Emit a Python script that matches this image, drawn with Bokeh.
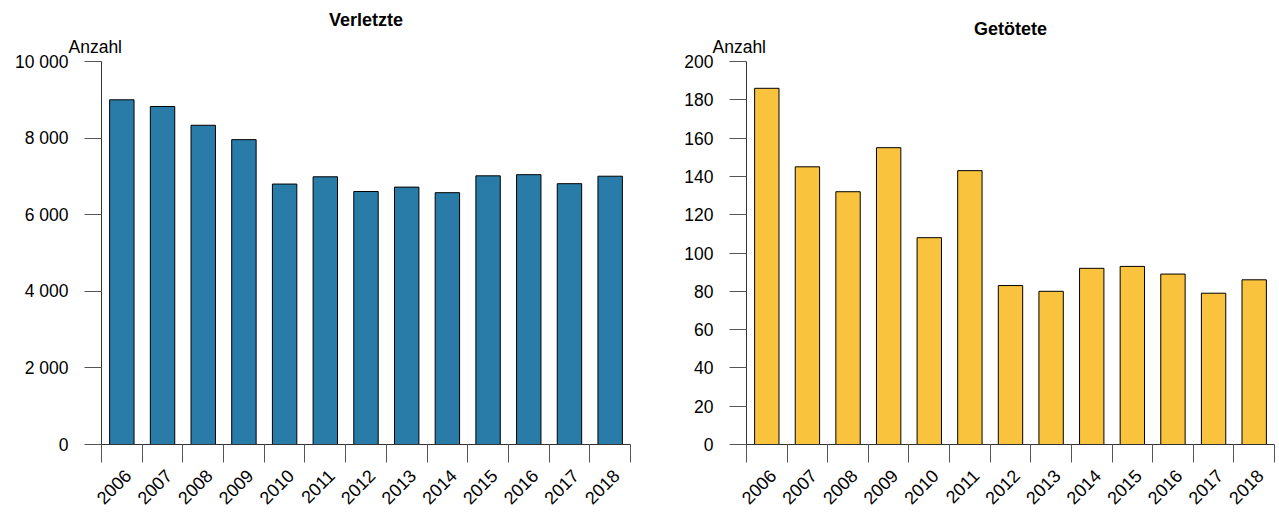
import math
from bokeh.plotting import figure
from bokeh.layouts import row
from bokeh.models import Range1d, FixedTicker, Title
from bokeh.embed import file_html
from bokeh.resources import INLINE

# ---- data ----
years = ["2006", "2007", "2008", "2009", "2010", "2011", "2012",
         "2013", "2014", "2015", "2016", "2017", "2018"]
verletzte = [9000, 8825, 8335, 7960, 6800, 6990, 6605, 6720, 6575, 7015, 7045, 6810, 7005]
getoetete = [186, 145, 132, 155, 108, 143, 83, 80, 92, 93, 89, 79, 86]

left_ticks = [0, 2000, 4000, 6000, 8000, 10000]
left_tick_labels = ["0", "2 000", "4 000", "6 000", "8 000", "10 000"]
right_ticks = [0, 20, 40, 60, 80, 100, 120, 140, 160, 180, 200]
right_tick_labels = ["0", "20", "40", "60", "80", "100", "120", "140", "160", "180", "200"]

titles = ["Verletzte", "Getötete"]
y_label = "Anzahl"
colors = ["#2A7CA8", "#FAC33D"]

FONT = "Liberation Sans"
LABEL_SHIFT = 0.15   # rotated year labels sit slightly right of the bar centre


def panel(values, color, ticks, tick_labels, title, width, b_left, b_right,
          title_dx, title_standoff, lab_dx):
    n = len(years)
    xs = list(range(1, n + 1))
    ymax = ticks[-1]
    p = figure(width=width, height=519, title=None,
               x_range=Range1d(0.5, n + 0.5),
               y_range=Range1d(0, ymax),
               output_backend="svg", toolbar_location=None,
               min_border_left=b_left, min_border_right=b_right,
               min_border_top=61, min_border_bottom=75)
    p.outline_line_color = None
    p.grid.visible = False
    p.background_fill_color = "white"
    p.border_fill_color = "white"

    p.vbar(x=xs, top=values, width=0.6, fill_color=color,
           line_color="black", line_width=1)

    # x axis: ticks at category boundaries, labels near centres
    label_pos = [x + LABEL_SHIFT for x in xs]
    xa = p.xaxis[0]
    xa.ticker = FixedTicker(ticks=label_pos, minor_ticks=[i + 0.5 for i in range(0, n + 1)])
    xa.major_label_overrides = {x: y for x, y in zip(label_pos, years)}
    xa.major_tick_out = 0
    xa.major_tick_in = 0
    xa.minor_tick_out = 18
    xa.minor_tick_in = 0
    xa.minor_tick_line_color = "#555555"
    xa.axis_line_color = "#333333"
    xa.major_label_orientation = math.pi / 4
    xa.major_label_standoff = 10
    xa.major_label_text_font = FONT
    xa.major_label_text_font_size = "18px"
    xa.major_label_text_color = "black"

    ya = p.yaxis[0]
    ya.ticker = FixedTicker(ticks=ticks, minor_ticks=[])
    ya.major_label_overrides = {t: l for t, l in zip(ticks, tick_labels)}
    ya.major_tick_out = 17
    ya.major_tick_in = 0
    ya.minor_tick_out = 0
    ya.minor_tick_in = 0
    ya.major_tick_line_color = "#555555"
    ya.axis_line_color = "#333333"
    ya.major_label_standoff = 16
    ya.major_label_text_font = FONT
    ya.major_label_text_font_size = "17.5px"
    ya.major_label_text_color = "black"

    p.add_layout(Title(text=y_label, align="left", offset=lab_dx, standoff=9,
                       text_font=FONT, text_font_size="17.5px",
                       text_font_style="normal", text_color="black"), "above")
    p.add_layout(Title(text=title, align="center", offset=title_dx,
                       standoff=title_standoff,
                       text_font=FONT, text_font_size="18px",
                       text_font_style="bold", text_color="black"), "above")
    return p


p1 = panel(verletzte, colors[0], left_ticks, left_tick_labels, titles[0],
           640, 101, 10, 9, 2, -33)
p2 = panel(getoetete, colors[1], right_ticks, right_tick_labels, titles[1],
           639, 106, 5, 22, -17, -34)

layout = row(p1, p2)
open("out.html", "w").write(file_html(layout, INLINE))
